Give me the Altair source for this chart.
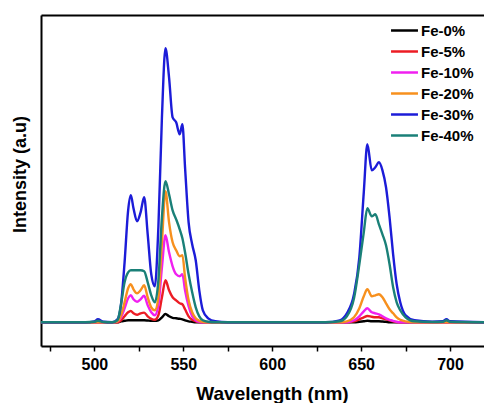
import altair as alt
import pandas as pd

wavelength = [470, 495, 500, 502, 505,
              510, 513, 515, 517, 519,
              520.5, 522, 524, 526, 528,
              530, 532, 534, 536, 538,
              540, 542, 544, 546, 548,
              549.5, 551, 553, 555, 557,
              559, 561, 564, 568, 575,
              600, 630, 638, 642, 646,
              649, 651.5, 653.5, 656, 658,
              660, 662, 664, 666, 668,
              670, 672, 675, 680, 690,
              696, 698, 700, 720]

fe0 = [0, 0, 0, 0, 0,
       0, 0, 1, 1.5, 2,
       2, 2, 2, 2, 2,
       1.8, 1.5, 1.5, 2, 5,
       8.3, 6, 4.5, 4, 3.5,
       3, 2, 1, 0.5, 0,
       0, 0, 0, 0, 0,
       0, 0, 0, 0, 0,
       0.5, 1, 1.5, 1, 1,
       1, 0.8, 0.5, 0, 0,
       0, 0, 0, 0, 0,
       0, 0, 0, 0]

fe5 = [0, 0, 0, 0, 0,
       0, 0, 2, 6, 10,
       11.3, 9, 7.5, 9, 9.7,
       6, 3.5, 2.5, 7, 25,
       42, 32, 25, 22, 19,
       18, 13, 6, 2.5, 1,
       0.3, 0, 0, 0, 0,
       0, 0, 0, 0, 1,
       3, 5, 6.3, 5.5, 5,
       5, 4, 3, 2, 1,
       0.3, 0, 0, 0, 0,
       0, 0, 0, 0]

fe10 = [0, 0, 0, 0, 0,
        0, 1, 5, 14, 24,
        27, 23, 20.5, 23, 26.5,
        17, 10, 7, 17, 55,
        87, 70, 56, 48, 46,
        48, 32, 16, 6, 2,
        0.5, 0, 0, 0, 0,
        0, 0, 0, 0, 2,
        6, 11, 14, 10, 9,
        8, 6, 4, 2.5, 1.5,
        0.5, 0, 0, 0, 0,
        0, 0, 0, 0]

fe20 = [0, 0, 0, 0, 0,
        0, 1, 7, 20, 34,
        38, 33, 29, 32, 37,
        25, 15, 12, 25, 80,
        131, 100, 80, 72, 66,
        67, 45, 22, 10, 4,
        1.5, 0.5, 0, 0, 0,
        0, 0, 0, 1, 5,
        14, 26, 33, 26, 27,
        28, 25, 19, 13, 9,
        5, 2.5, 1, 0, 0,
        0, 0, 0, 0]

fe30 = [0, 0, 1, 3, 0.5,
        0, 3, 18, 60, 112,
        127, 114, 101, 110, 125,
        88, 48, 36, 95, 205,
        274, 245, 205, 200, 188,
        198, 155, 100, 78, 62,
        32, 12, 4, 1, 0,
        0, 0, 2, 9, 28,
        65, 130, 178, 152, 155,
        160, 152, 135, 105, 68,
        38, 20, 7, 2, 0.5,
        1, 3, 1, 0]

fe40 = [0, 0, 0.5, 1.5, 0.3,
        0, 2, 18, 40, 50,
        52, 52, 52, 52, 51,
        40, 27, 20, 42, 105,
        141, 128, 112, 103, 93,
        84, 70, 48, 30, 15,
        6, 2, 0.5, 0, 0,
        0, 0, 1, 6, 24,
        58, 90, 114, 106, 108,
        98, 88, 77, 58, 35,
        20, 12, 5, 1, 0.3,
        0.5, 2, 0.5, 0]

series_names = ["Fe-0%", "Fe-5%", "Fe-10%", "Fe-20%", "Fe-30%", "Fe-40%"]
series_values = [fe0, fe5, fe10, fe20, fe30, fe40]
series_colors = ["#000000", "#ec1c24", "#f020f0", "#f7901e", "#1c1cd8", "#1a8078"]
x_tick_values = [475, 500, 525, 550, 575, 600, 625, 650, 675, 700]

rows = []
for name, vals in zip(series_names, series_values):
    for w, v in zip(wavelength, vals):
        rows.append({"wl": w, "I": v, "series": name})
df = pd.DataFrame(rows)

FONT = "Liberation Sans"
xscale = alt.Scale(domain=[470, 719.1], nice=False, zero=False)
yscale = alt.Scale(domain=[-23.7, 307.3], nice=False, zero=False)

lines = alt.Chart(df).mark_line(strokeWidth=2.4, interpolate="monotone").encode(
    x=alt.X("wl:Q", scale=xscale,
            axis=alt.Axis(values=x_tick_values,
                          labelExpr="datum.value % 50 == 0 ? datum.label : ''",
                          title="Wavelength (nm)", titleFont=FONT, titleFontSize=19,
                          titleFontWeight="bold", titleColor="black", titleX=231,
                          titlePadding=12,
                          labelFont=FONT, labelFontSize=16, labelFontWeight="bold",
                          labelColor="black", labelPadding=5,
                          tickSize=5, tickWidth=1.5, tickColor="black",
                          domainColor="black", domainWidth=2, grid=False)),
    y=alt.Y("I:Q", scale=yscale,
            axis=alt.Axis(labels=False, ticks=False, grid=False,
                          title="Intensity (a.u)", titleFont=FONT, titleFontSize=18,
                          titleFontWeight="bold", titleColor="black",
                          titleX=-20.5, titleY=159, titleAngle=270,
                          titleAlign="center", titleBaseline="middle",
                          domainColor="black", domainWidth=2)),
    color=alt.Color("series:N",
                    scale=alt.Scale(domain=series_names, range=series_colors),
                    sort=series_names,
                    legend=alt.Legend(title=None, orient="none", legendX=356, legendY=8,
                                      symbolType="M-2.2,0H2.2", symbolSize=150,
                                      symbolStrokeWidth=2.5,
                                      labelFont=FONT, labelFontSize=15,
                                      labelFontWeight="bold", labelColor="black",
                                      labelOffset=9, rowPadding=5)),
)

top = alt.Chart(df).mark_point(opacity=0).encode(
    x=alt.X("wl:Q", scale=xscale,
            axis=alt.Axis(orient="top", labels=False, ticks=False, title=None,
                          grid=False, domainColor="black", domainWidth=2)),
    y=alt.Y("I:Q", scale=yscale, axis=None),
)

chart = alt.layer(lines, top).resolve_axis(x="independent", y="independent").properties(
    width=443, height=331,
    autosize=alt.AutoSizeParams(type="none"),
    padding={"left": 41, "top": 15, "right": 0, "bottom": 57},
).configure_view(stroke=None).configure(background="white")

chart.save("out.html", embed_options={"renderer": "svg", "actions": False})
